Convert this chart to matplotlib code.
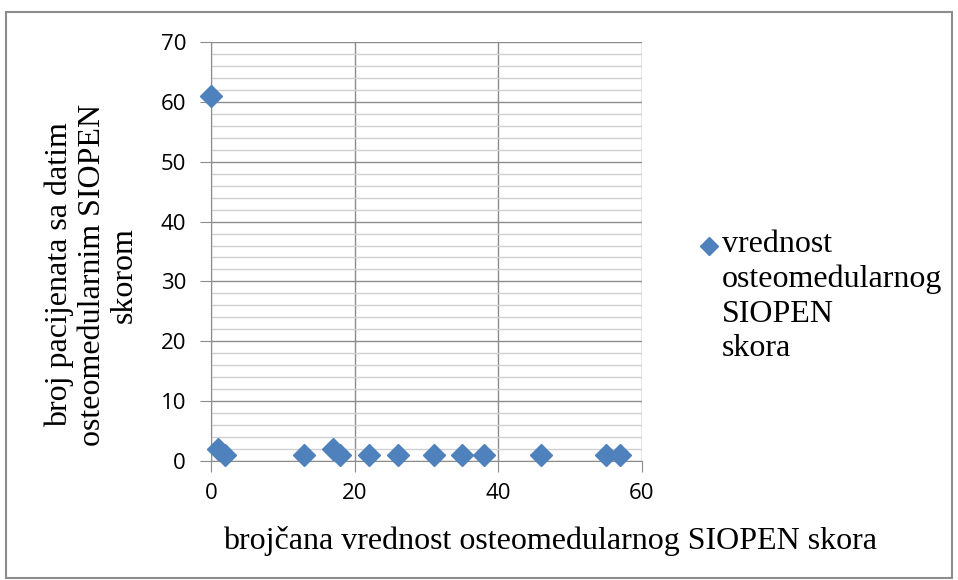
import matplotlib
matplotlib.use("Agg")
import matplotlib.pyplot as plt
from matplotlib.patches import Rectangle
from matplotlib.lines import Line2D
from matplotlib.ticker import MultipleLocator

# vrednosti sa grafika
skor = [0, 1, 2, 13, 17, 18, 22, 26, 31, 35, 38, 46, 55, 57]
broj_pacijenata = [61, 2, 1, 1, 2, 1, 1, 1, 1, 1, 1, 1, 1, 1]

x_label = "brojčana vrednost osteomedularnog SIOPEN skora"
y_label = "broj pacijenata sa datim\nosteomedularnim SIOPEN\nskorom"
legend_label = "vrednost\nosteomedularnog\nSIOPEN\nskora"

W, H = 958, 580
blue = "#4F81BD"
serif = "Liberation Serif"

fig = plt.figure(figsize=(W / 100, H / 100), dpi=100)
ax = fig.add_axes([211 / W, 1 - 461 / H, (642 - 211) / W, (461 - 42) / H])

# okvir oko celog grafika
fig.patches.append(Rectangle((6 / W, 1 - 578 / H), 946 / W, 566 / H,
                             transform=fig.transFigure, fill=False,
                             edgecolor="#8c8c8c", linewidth=1.5))

ax.plot(skor, broj_pacijenata, linestyle="none", marker="D", markersize=11,
        color=blue, clip_on=False, zorder=3)

ax.set_xlim(0, 60)
ax.set_ylim(0, 70)
ax.xaxis.set_major_locator(MultipleLocator(20))
ax.yaxis.set_major_locator(MultipleLocator(10))
ax.yaxis.set_minor_locator(MultipleLocator(2))
ax.grid(which="major", color="#8c8c8c", linewidth=1)
ax.grid(which="minor", axis="y", color="#d0d0d0", linewidth=1)
ax.set_axisbelow(True)

for s in ["top", "right"]:
    ax.spines[s].set_visible(False)
for s in ["left", "bottom"]:
    ax.spines[s].set_color("#8c8c8c")
ax.tick_params(which="major", length=8, color="#8c8c8c", labelsize=16)
ax.tick_params(axis="y", pad=10)
ax.tick_params(axis="x", pad=8)
ax.tick_params(which="minor", length=0)
for lab in ax.get_xticklabels() + ax.get_yticklabels():
    lab.set_fontfamily("Open Sans")

# naslovi osa
fig.text(550 / W, 1 - 541 / H, x_label, fontsize=23, fontfamily=serif,
         ha="center", va="center")
fig.text(92 / W, 1 - 275 / H, y_label, fontsize=23, fontfamily=serif,
         ha="center", va="center", rotation=90, linespacing=1.15, multialignment="center")

# legenda
fig.add_artist(Line2D([709 / W], [1 - 246 / H], transform=fig.transFigure,
                      marker="D", markersize=9, color=blue, linestyle="none"))
fig.text(722 / W, 1 - 230 / H, legend_label, fontsize=23, fontfamily=serif,
         ha="left", va="top", linespacing=1.25)

fig.savefig("out.png", dpi=100)
